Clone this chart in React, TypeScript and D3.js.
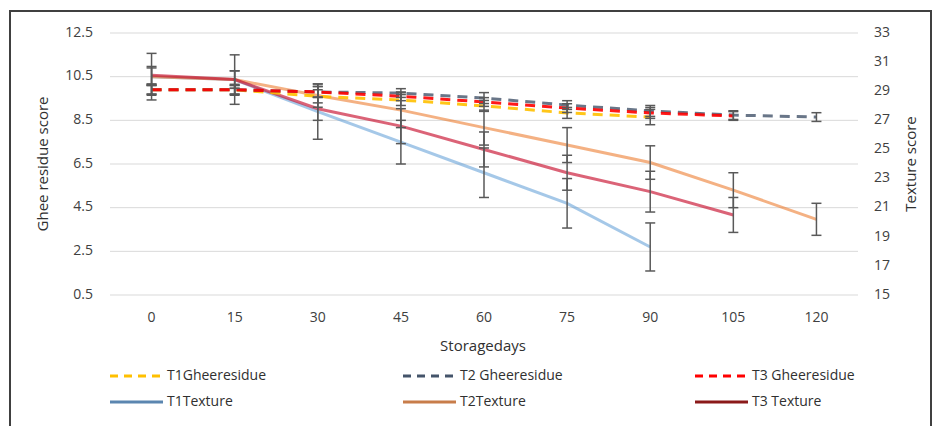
import React from "react";
import * as d3 from "d3";

const days = ["0", "15", "30", "45", "60", "75", "90", "105", "120"];
const leftTicks = [0.5, 2.5, 4.5, 6.5, 8.5, 10.5, 12.5];
const rightTicks = [15, 17, 19, 21, 23, 25, 27, 29, 31, 33];

const t1Ghee = [9.9, 9.9, 9.6, 9.43, 9.16, 8.84, 8.65];
const t2Ghee = [9.9, 9.9, 9.8, 9.75, 9.52, 9.2, 8.93, 8.74, 8.65];
const t3Ghee = [9.9, 9.9, 9.8, 9.6, 9.34, 9.06, 8.84, 8.7];
const t1GheeErr = [0.25, 0.25, 0.3, 0.25, 0.25, 0.25, 0.35];
const t2GheeErr = [0.2, 0.2, 0.25, 0.2, 0.25, 0.2, 0.25, 0.2, 0.2];
const t3GheeErr = [0.2, 0.2, 0.25, 0.2, 0.2, 0.2, 0.25, 0.2];

const t1Texture = [30.0, 29.8, 27.6, 25.5, 23.4, 21.3, 18.3];
const t2Texture = [30.0, 29.8, 28.7, 27.7, 26.5, 25.3, 24.1, 22.2, 20.2];
const t3Texture = [30.1, 29.8, 27.8, 26.6, 25.0, 23.4, 22.1, 20.5];
const t1TextureErr = [1.6, 1.7, 1.9, 1.5, 1.7, 1.7, 1.65];
const t2TextureErr = [0.6, 0.6, 0.8, 1.2, 1.2, 1.2, 1.15, 1.2, 1.1];
const t3TextureErr = [0.6, 0.6, 0.8, 1.2, 1.2, 1.2, 1.4, 1.2];

const FONT = "'Open Sans', Lato, sans-serif";

export default function App() {
  const W = 938, H = 426;
  const x = d3.scaleBand().domain(days).range([110, 858]).padding(0);
  const yL = d3.scaleLinear().domain([0.5, 12.5]).range([295, 33]);
  const yR = d3.scaleLinear().domain([15, 33]).range([295, 33]);
  const cx = (i: number) => (x(days[i]) as number) + x.bandwidth() / 2;

  const series = [
    { name: "T1Texture", vals: t1Texture, err: t1TextureErr, y: yR, color: "#5B9BD5", op: 0.55, dash: "", w: 3 },
    { name: "T2Texture", vals: t2Texture, err: t2TextureErr, y: yR, color: "#ED7D31", op: 0.6, dash: "", w: 3 },
    { name: "T3 Texture", vals: t3Texture, err: t3TextureErr, y: yR, color: "#C8102E", op: 0.65, dash: "", w: 3 },
    { name: "T1Gheeresidue", vals: t1Ghee, err: t1GheeErr, y: yL, color: "#FFC000", op: 0.9, dash: "10,7", w: 3 },
    { name: "T2 Gheeresidue", vals: t2Ghee, err: t2GheeErr, y: yL, color: "#44546A", op: 0.8, dash: "10,7", w: 3 },
    { name: "T3 Gheeresidue", vals: t3Ghee, err: t3GheeErr, y: yL, color: "#FF0000", op: 0.9, dash: "10,7", w: 3 },
  ];

  const legend = [
    { label: "T1Gheeresidue", color: "#FFC000", dash: "8,6", lx: 110, row: 0 },
    { label: "T2 Gheeresidue", color: "#44546A", dash: "8,6", lx: 403, row: 0 },
    { label: "T3 Gheeresidue", color: "#FF0000", dash: "8,6", lx: 695, row: 0 },
    { label: "T1Texture", color: "#5B86B0", dash: "", lx: 110, row: 1 },
    { label: "T2Texture", color: "#C87D4A", dash: "", lx: 403, row: 1 },
    { label: "T3 Texture", color: "#8B1A1A", dash: "", lx: 695, row: 1 },
  ];

  return (
    <svg width={W} height={H} style={{ position: "absolute", left: 0, top: 0, background: "#fff" }} fontFamily={FONT}>
      <rect x={10} y={11} width={921} height={440} fill="#fff" stroke="#404040" strokeWidth={2} />
      {leftTicks.map((t) => (
        <line key={"g" + t} x1={110} x2={858} y1={yL(t)} y2={yL(t)} stroke="#d9d9d9" strokeWidth={1} />
      ))}
      {leftTicks.map((t) => (
        <text key={"l" + t} x={93} y={yL(t)} textAnchor="end" dominantBaseline="middle" fontSize={14} fill="#404040">
          {t.toFixed(1)}
        </text>
      ))}
      {rightTicks.map((t) => (
        <text key={"r" + t} x={874} y={yR(t)} textAnchor="start" dominantBaseline="middle" fontSize={14} fill="#404040">
          {t}
        </text>
      ))}
      {days.map((d, i) => (
        <text key={"x" + d} x={cx(i)} y={318} textAnchor="middle" dominantBaseline="middle" fontSize={14} fill="#404040">
          {d}
        </text>
      ))}
      <text x={483} y={347} textAnchor="middle" dominantBaseline="middle" fontSize={15} fill="#303030">Storagedays</text>
      <text transform={`translate(44,164) rotate(-90)`} textAnchor="middle" dominantBaseline="middle" fontSize={15} fill="#303030">
        Ghee residue score
      </text>
      <text transform={`translate(912,164) rotate(-90)`} textAnchor="middle" dominantBaseline="middle" fontSize={15} fill="#303030">
        Texture score
      </text>

      {series.map((s) => {
        const line = d3.line<number>().x((_, i) => cx(i)).y((v) => s.y(v));
        return (
          <path key={s.name} d={line(s.vals) || ""} fill="none" stroke={s.color} strokeOpacity={s.op}
            strokeWidth={s.w} strokeDasharray={s.dash || undefined} />
        );
      })}
      {series.map((s) =>
        s.vals.map((v, i) => {
          const xx = cx(i);
          const y1 = s.y(v + s.err[i]);
          const y2 = s.y(v - s.err[i]);
          return (
            <g key={s.name + "e" + i} stroke="#595959" strokeWidth={1.5}>
              <line x1={xx} x2={xx} y1={y1} y2={y2} />
              <line x1={xx - 5} x2={xx + 5} y1={y1} y2={y1} />
              <line x1={xx - 5} x2={xx + 5} y1={y2} y2={y2} />
            </g>
          );
        })
      )}

      {legend.map((l) => {
        const yy = l.row === 0 ? 376 : 402;
        return (
          <g key={l.label}>
            <line x1={l.lx} x2={l.lx + 53} y1={yy} y2={yy} stroke={l.color} strokeWidth={3} strokeDasharray={l.dash || undefined} />
            <text x={l.lx + 57} y={yy} dominantBaseline="middle" fontSize={14} fill="#303030">{l.label}</text>
          </g>
        );
      })}
    </svg>
  );
}
